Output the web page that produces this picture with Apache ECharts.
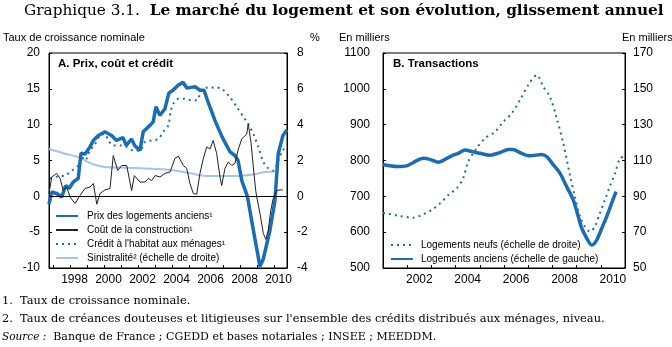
<!DOCTYPE html>
<html><head><meta charset="utf-8">
<script src="https://cdn.jsdelivr.net/npm/echarts@6/dist/echarts.min.js"></script>
<style>html,body{margin:0;padding:0;background:#fff}#c{width:672px;height:347px}</style>
</head><body><div id="c"></div>
<script>
// ---------- Panel A : Prix, coût et crédit ----------
const prixX = [1996.75,1996.91,1997.2,1997.5,1997.73,1997.93,1998.18,1998.47,1998.63,1998.87,1999.16,1999.36,1999.65,2000.04,2000.43,2000.72,2001.1,2001.3,2001.6,2001.79,2002.1,2002.29,2002.69,2002.88,2003.04,2003.27,2003.57,2003.8,2004.04,2004.34,2004.63,2004.87,2005.1,2005.34,2005.63,2005.87,2006.1,2006.51,2006.93,2007.4,2007.69,2007.87,2008.09,2008.42,2008.77,2009.16,2009.36,2009.75,2010.04,2010.23,2010.51,2010.75];
const prixY = [-1.1,0.6,0.4,-0.1,1.5,1.1,2.0,2.5,6.0,5.9,6.9,7.8,8.5,9.0,8.5,7.8,8.2,7.1,8.0,7.1,6.4,9.0,9.9,10.4,12.5,11.3,12.2,14.4,14.8,15.5,15.9,15.1,15.2,15.3,14.8,14.8,13.2,10.6,8.3,6.2,5.7,5.0,2.2,0.0,-4.7,-9.8,-8.7,-4.7,-0.6,5.9,8.5,9.3];

const coutX = [1996.75,1996.91,1997.2,1997.4,1997.59,1997.79,1997.99,1998.28,1998.57,1998.87,1999.16,1999.36,1999.56,1999.75,2000.04,2000.34,2000.53,2000.79,2001.03,2001.32,2001.61,2001.77,2002.1,2002.4,2002.59,2002.79,2002.99,2003.28,2003.57,2003.87,2004.16,2004.36,2004.65,2004.85,2005.04,2005.24,2005.44,2005.63,2005.83,2006.03,2006.22,2006.41,2006.61,2006.81,2006.91,2007.1,2007.3,2007.5,2007.69,2007.89,2008.09,2008.38,2008.47,2008.63,2008.77,2008.91,2008.97,2009.16,2009.36,2009.51,2009.65,2009.79,2009.94,2010.14,2010.34,2010.5];
const coutY = [0.4,2.7,3.2,2.5,0.8,1.3,-0.1,-1.0,0.1,1.1,1.3,1.8,-1.1,0.4,0.9,1.1,5.7,3.6,4.3,4.3,0.8,2.9,2.0,2.0,2.5,2.2,2.9,2.7,3.2,3.4,5.3,5.6,4.3,3.9,1.8,0.4,0.3,3.2,5.3,6.9,6.6,7.8,6.0,2.7,1.5,3.9,4.8,4.3,4.6,6.6,8.0,8.7,10.1,7.6,4.1,0.8,-0.1,-2.4,-5.2,-6.0,-4.7,-2.0,-0.3,0.8,0.9,0.9];

const creditX = [1996.81,1997.3,1997.69,1998.09,1998.47,1998.67,1998.87,1999.16,1999.46,1999.75,2000.04,2000.24,2000.53,2000.93,2001.32,2001.71,2002.1,2002.4,2002.79,2003.18,2003.47,2003.77,2003.9,2004.06,2004.36,2004.75,2005.14,2005.44,2005.73,2006.12,2006.51,2006.91,2007.4,2007.79,2008.18,2008.47,2008.77,2009.06,2009.36,2009.65,2009.94,2010.24,2010.5,2010.73];
const creditY = [2.5,2.8,2.9,3.6,4.3,5.5,5.0,6.4,7.3,8.5,8.7,7.8,7.1,7.1,6.9,6.4,6.4,7.6,7.8,8.0,9.0,9.9,11.8,12.9,13.6,13.6,13.4,13.4,14.8,15.2,15.2,15.0,13.8,12.5,11.1,10.1,8.7,6.9,4.8,3.9,3.6,5.0,6.4,7.0];

const sinX = [1996.75,1997.69,1998.47,1999.26,2000.04,2001.22,2002.4,2003.77,2004.36,2005.14,2006.12,2007.5,2008.67,2009.46,2010.04];
const sinY = [2.64,2.38,2.19,1.82,1.64,1.60,1.55,1.49,1.41,1.27,1.13,1.13,1.21,1.36,1.39];

const leftYearTicks = [1997,1998,1999,2000,2001,2002,2003,2004,2005,2006,2007,2008,2009,2010];
const leftYearLabels = [1998,2000,2002,2004,2006,2008,2010];

// ---------- Panel B : Transactions ----------
const ancX = [2001.0,2001.15,2001.57,2001.98,2002.32,2002.67,2002.94,2003.29,2003.56,2003.84,2004.11,2004.39,2004.67,2005.01,2005.42,2005.83,2006.18,2006.38,2006.66,2007.07,2007.56,2007.76,2008.04,2008.31,2008.59,2008.86,2009.07,2009.21,2009.42,2009.62,2009.83,2010.04,2010.24,2010.45,2010.63];
const ancY = [788,787,783,785,797,806,803,795,803,813,820,829,825,820,815,822,831,831,822,813,817,811,788,765,727,690,643,611,583,564,578,611,643,681,713];

const neufX = [2001.0,2001.15,2001.7,2002.25,2002.67,2003.01,2003.36,2003.7,2004.05,2004.31,2004.52,2004.87,2005.21,2005.63,2005.97,2006.32,2006.66,2007.0,2007.36,2007.62,2007.9,2008.18,2008.45,2008.73,2008.93,2009.14,2009.35,2009.55,2009.75,2009.96,2010.17,2010.37,2010.59,2010.79,2010.95];
const neufY = [80.7,80.5,79,78.1,80,82.4,86.1,90.7,94.5,100,109.3,116.8,122.4,126,131.6,136.3,143.8,152.1,157.7,151.2,145.6,133.5,119.6,101.5,89.8,78.6,73,70.3,73,80.5,88,95.4,102.9,111.2,112];

const rightYearTicks = [2002,2003,2004,2005,2006,2007,2008,2009,2010];
const rightYearLabels = [2002,2004,2006,2008,2010];

const zip = (xs, ys) => xs.map((x, i) => [x, ys[i]]);

const BLUE = '#1a6db5';
const LIGHT = '#a8c3e6';
const SANS = '"Liberation Sans", Arial, sans-serif';
const SERIF = '"DejaVu Serif", serif';

const axisCommon = {
  axisLine: { show: true, onZero: false, lineStyle: { color: '#000', width: 1 } },
  axisTick: { show: true, inside: true, length: 3, lineStyle: { color: '#000' } },
  splitLine: { show: false },
  axisLabel: { color: '#000', fontSize: 12, fontFamily: SANS, showMinLabel: true, showMaxLabel: true, formatter: v => String(v) }
};
function ax(extra) {
  const o = {};
  for (const k in axisCommon) o[k] = Object.assign({}, axisCommon[k]);
  for (const k in extra) {
    if (typeof extra[k] === 'object' && !Array.isArray(extra[k]) && o[k]) Object.assign(o[k], extra[k]);
    else o[k] = extra[k];
  }
  return o;
}

const chart = echarts.init(document.getElementById('c'), null, { renderer: 'canvas' });
const titleBase = { textStyle: { fontFamily: SANS, fontSize: 11, fontWeight: 'normal', color: '#000' }, padding: 0 };
const t = (text, left, top, style) => Object.assign({}, titleBase, { text, left, top, textStyle: Object.assign({}, titleBase.textStyle, style || {}) });

chart.setOption({
  animation: false,
  backgroundColor: '#fff',
  title: [
    { text: '{a|Graphique 3.1.}  {b|Le marché du logement et son évolution, glissement annuel}', left: 24, top: 4, padding: 0,
      textStyle: { fontFamily: SERIF, fontSize: 15.3, fontWeight: 'normal', color: '#000',
        rich: { a: { fontFamily: SERIF, fontSize: 15.3, fontWeight: 'normal', color: '#000' }, b: { fontFamily: SERIF, fontSize: 15.3, fontWeight: 'bold', color: '#000' } } } },
    t('Taux de croissance nominale', 3, 32),
    t('%', 310, 32),
    t('En milliers', 339, 32),
    t('En milliers', 622, 32),
    t('A. Prix, coût et crédit', 58, 58, { fontWeight: 'bold', fontSize: 11.5 }),
    t('B. Transactions', 393, 58, { fontWeight: 'bold', fontSize: 11.5 }),
    t('1.  Taux de croissance nominale.', 2, 296, { fontFamily: SERIF, fontSize: 11.4 }),
    t('2.  Taux de créances douteuses et litigieuses sur l\'ensemble des crédits distribués aux ménages, niveau.', 2, 314, { fontFamily: SERIF, fontSize: 11.4 }),
    { text: '{i|Source :}  Banque de France ; CGEDD et bases notariales ; INSEE ; MEEDDM.', left: 2, top: 332, padding: 0,
      textStyle: { fontFamily: SERIF, fontSize: 11, fontWeight: 'normal', color: '#000', rich: { i: { fontFamily: SERIF, fontStyle: 'italic', fontSize: 10.5, color: '#000' } } } }
  ],
  grid: [
    { left: 49, top: 53, width: 238, height: 215, show: true, borderColor: '#000', borderWidth: 1, backgroundColor: 'transparent' },
    { left: 383, top: 53, width: 242, height: 215, show: true, borderColor: '#000', borderWidth: 1, backgroundColor: 'transparent' }
  ],
  xAxis: [
    ax({ type: 'value', gridIndex: 0, min: 1996.75, max: 2010.75,
      axisTick: { customValues: leftYearTicks },
      axisLabel: { customValues: leftYearLabels.map(y => y + 0.25), formatter: v => String(Math.floor(v)), margin: 6 } }),
    ax({ type: 'value', gridIndex: 1, min: 2001, max: 2011,
      axisTick: { customValues: rightYearTicks },
      axisLabel: { customValues: rightYearLabels.map(y => y + 0.5), formatter: v => String(Math.floor(v)), margin: 6 } })
  ],
  yAxis: [
    ax({ type: 'value', gridIndex: 0, min: -10, max: 20, interval: 5, position: 'left', axisLabel: { margin: 9 } }),
    ax({ type: 'value', gridIndex: 0, min: -4, max: 8, interval: 2, position: 'right', axisLabel: { margin: 10 } }),
    ax({ type: 'value', gridIndex: 1, min: 500, max: 1100, interval: 100, position: 'left', axisLabel: { margin: 13 } }),
    ax({ type: 'value', gridIndex: 1, min: 50, max: 170, interval: 20, position: 'right', axisLabel: { margin: 8 } })
  ],
  legend: [
    { orient: 'vertical', left: 55, top: 211, padding: 0, itemWidth: 22, itemHeight: 10, itemGap: 4,
      itemStyle: { opacity: 0 },
      data: ['Prix des logements anciens¹', 'Coût de la construction¹', 'Crédit à l\'habitat aux ménages¹', 'Sinistralité² (échelle de droite)'],
      textStyle: { fontFamily: SANS, fontSize: 10, color: '#000', padding: [0, 0, 0, 4] } },
    { orient: 'vertical', left: 390, top: 240, padding: 0, itemWidth: 22, itemHeight: 10, itemGap: 4,
      itemStyle: { opacity: 0 },
      data: ['Logements neufs (échelle de droite)', 'Logements anciens (échelle de gauche)'],
      textStyle: { fontFamily: SANS, fontSize: 10, color: '#000', padding: [0, 0, 0, 3] } }
  ],
  series: [
    { name: 'Sinistralité² (échelle de droite)', type: 'line', xAxisIndex: 0, yAxisIndex: 1, data: zip(sinX, sinY), showSymbol: false, symbol: 'none', smooth: 0.3, z: 2,
      lineStyle: { color: LIGHT, width: 2 }, itemStyle: { color: LIGHT } },
    { name: 'Prix des logements anciens¹', type: 'line', xAxisIndex: 0, yAxisIndex: 0, data: zip(prixX, prixY), showSymbol: false, symbol: 'none', z: 3,
      lineStyle: { color: BLUE, width: 3.5 }, itemStyle: { color: BLUE } },
    { name: 'Crédit à l\'habitat aux ménages¹', type: 'line', xAxisIndex: 0, yAxisIndex: 0, data: zip(creditX, creditY), showSymbol: false, symbol: 'none', smooth: 0.3, z: 3,
      lineStyle: { color: BLUE, width: 2, type: [2, 4] }, itemStyle: { color: BLUE } },
    { name: 'Coût de la construction¹', type: 'line', xAxisIndex: 0, yAxisIndex: 0, data: zip(coutX, coutY), showSymbol: false, symbol: 'none', z: 4,
      lineStyle: { color: '#222', width: 1 }, itemStyle: { color: '#222' },
      markLine: { silent: true, symbol: ['none', 'none'], label: { show: false }, lineStyle: { color: '#000', width: 1, type: 'solid' }, data: [{ yAxis: 0 }] } },
    { name: 'Logements neufs (échelle de droite)', type: 'line', xAxisIndex: 1, yAxisIndex: 3, data: zip(neufX, neufY), showSymbol: false, symbol: 'none', smooth: 0.3, z: 3,
      lineStyle: { color: BLUE, width: 2, type: [2, 4] }, itemStyle: { color: BLUE } },
    { name: 'Logements anciens (échelle de gauche)', type: 'line', xAxisIndex: 1, yAxisIndex: 2, data: zip(ancX, ancY), showSymbol: false, symbol: 'none', smooth: 0.3, z: 3,
      lineStyle: { color: BLUE, width: 3.5 }, itemStyle: { color: BLUE } }
  ]
});
</script>
</body></html>
